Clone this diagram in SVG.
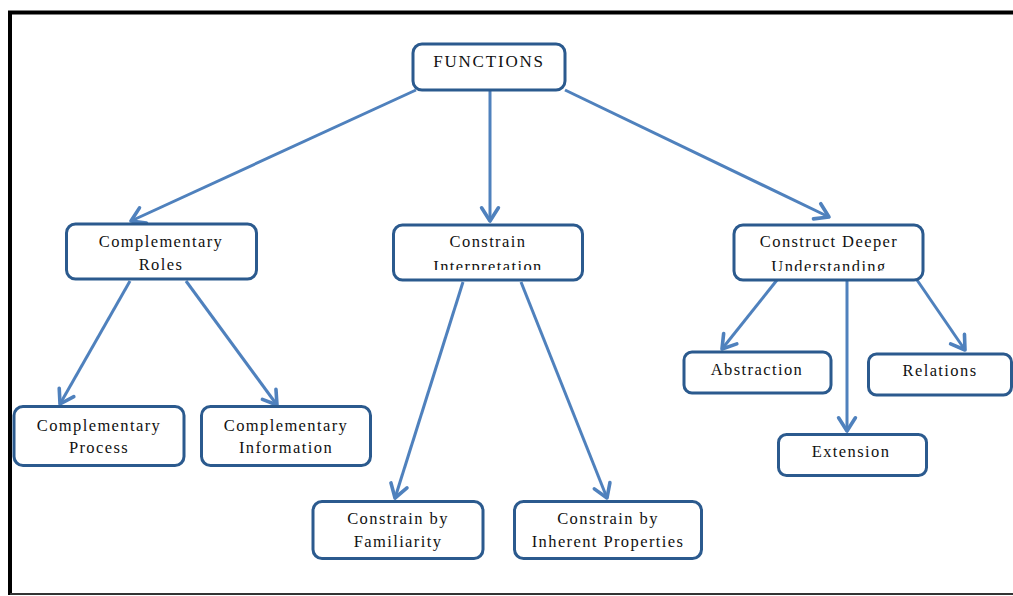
<svg xmlns="http://www.w3.org/2000/svg" width="1013" height="596" viewBox="0 0 1013 596">
<style>
.box{fill:#fff;stroke:#2B5A8E;stroke-width:3}
.lbl{font-family:'Liberation Serif','DejaVu Serif',serif;font-size:16.5px;letter-spacing:1.4px;fill:#111;text-anchor:middle}
.ln{fill:none;stroke:#4F81BD;stroke-width:3}
</style>
<defs>
<marker id="ah" markerUnits="userSpaceOnUse" markerWidth="24" markerHeight="24" viewBox="-14 -10 16 20" refX="0" refY="0" orient="auto">
<path d="M-11,-7 L0,0 L-11,7" fill="none" stroke="#4F81BD" stroke-width="3" stroke-linejoin="round" stroke-linecap="round"/>
</marker>
<clipPath id="c1"><rect x="392" y="224" width="192" height="46"/></clipPath>
<clipPath id="c2"><rect x="733" y="224" width="192" height="47"/></clipPath>
</defs>
<rect width="1013" height="596" fill="#fff"/>
<g id="frame">
<line x1="8" y1="12.5" x2="1013" y2="12.5" stroke="#000" stroke-width="4"/>
<line x1="10" y1="11" x2="10" y2="595" stroke="#000" stroke-width="4"/>
<line x1="10" y1="594" x2="1013" y2="594" stroke="#333" stroke-width="2"/>
</g>
<g id="connectors">
<line class="ln" x1="416" y1="90" x2="131" y2="221" marker-end="url(#ah)"/>
<line class="ln" x1="490" y1="91" x2="490" y2="221" marker-end="url(#ah)"/>
<line class="ln" x1="565" y1="90" x2="829" y2="217" marker-end="url(#ah)"/>
<line class="ln" x1="130" y1="281" x2="60" y2="404" marker-end="url(#ah)"/>
<line class="ln" x1="186" y1="281" x2="277" y2="405" marker-end="url(#ah)"/>
<line class="ln" x1="463" y1="282" x2="395" y2="498" marker-end="url(#ah)"/>
<line class="ln" x1="521" y1="282" x2="607" y2="498" marker-end="url(#ah)"/>
<line class="ln" x1="777" y1="280" x2="722" y2="349" marker-end="url(#ah)"/>
<line class="ln" x1="847" y1="281" x2="847" y2="431" marker-end="url(#ah)"/>
<line class="ln" x1="917" y1="280" x2="965" y2="350" marker-end="url(#ah)"/>
</g>
<g id="n-functions">
<rect class="box" x="413" y="44" width="152" height="46" rx="9"/>
<text class="lbl" x="489" y="66.5" style="font-size:17px;letter-spacing:1.8px">FUNCTIONS</text>
</g>
<g id="n-roles">
<rect class="box" x="66.5" y="224" width="190" height="55" rx="9"/>
<text class="lbl" x="161" y="247">Complementary</text>
<text class="lbl" x="161" y="270">Roles</text>
</g>
<g id="n-interpretation">
<rect class="box" x="393.5" y="225" width="189" height="55" rx="9"/>
<text class="lbl" x="488" y="247">Constrain</text>
<text class="lbl" x="488" y="272" clip-path="url(#c1)">Interpretation</text>
</g>
<g id="n-deeper">
<rect class="box" x="734" y="225" width="189" height="55" rx="9"/>
<text class="lbl" x="829" y="247">Construct Deeper</text>
<text class="lbl" x="829" y="272" clip-path="url(#c2)">Understanding</text>
</g>
<g id="n-process">
<rect class="box" x="14" y="406.5" width="170" height="59" rx="9"/>
<text class="lbl" x="99" y="430.5">Complementary</text>
<text class="lbl" x="99" y="453">Process</text>
</g>
<g id="n-information">
<rect class="box" x="201.5" y="406.5" width="169" height="59" rx="9"/>
<text class="lbl" x="286" y="430.5">Complementary</text>
<text class="lbl" x="286" y="453">Information</text>
</g>
<g id="n-familiarity">
<rect class="box" x="313" y="501.5" width="170" height="57" rx="9"/>
<text class="lbl" x="398" y="524">Constrain by</text>
<text class="lbl" x="398" y="547">Familiarity</text>
</g>
<g id="n-inherent">
<rect class="box" x="514.5" y="501.5" width="187" height="57" rx="9"/>
<text class="lbl" x="608" y="524">Constrain by</text>
<text class="lbl" x="608" y="547">Inherent Properties</text>
</g>
<g id="n-abstraction">
<rect class="box" x="684" y="352" width="147" height="41" rx="8"/>
<text class="lbl" x="757" y="375">Abstraction</text>
</g>
<g id="n-relations">
<rect class="box" x="868.5" y="354" width="143" height="41" rx="8"/>
<text class="lbl" x="940" y="376">Relations</text>
</g>
<g id="n-extension">
<rect class="box" x="778.5" y="434.5" width="148" height="41" rx="8"/>
<text class="lbl" x="851" y="457">Extension</text>
</g>
</svg>
